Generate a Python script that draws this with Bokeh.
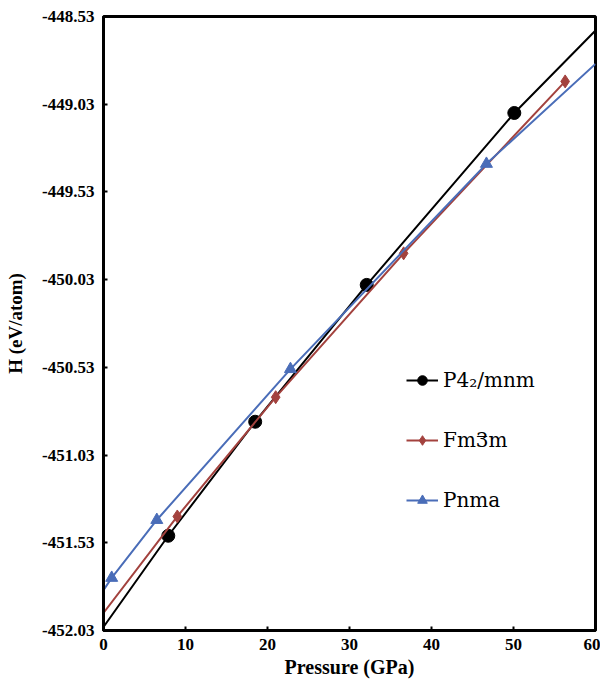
from bokeh.plotting import figure
from bokeh.models import Range1d, FixedTicker, PrintfTickFormatter, Legend, LegendItem, Label
from bokeh.embed import file_html
from bokeh.resources import INLINE

# ---- data ----
p42_p = [7.9, 18.5, 32.1, 50.1]
p42_h = [-451.49, -450.84, -450.06, -449.08]
p42_curve_p = [0.0, 7.9, 18.5, 32.1, 50.1, 60.0]
p42_curve_h = [-452.01, -451.49, -450.84, -450.06, -449.08, -448.61]

fm_p = [9.0, 21.0, 36.6, 56.3]
fm_h = [-451.38, -450.70, -449.88, -448.90]
fm_curve_p = [0.0, 9.0, 21.0, 36.6, 56.3]
fm_curve_h = [-451.93, -451.38, -450.70, -449.88, -448.90]

pnma_p = [1.0, 6.5, 22.8, 46.7]
pnma_h = [-451.73, -451.40, -450.54, -449.37]
pnma_curve_p = [0.0, 1.0, 6.5, 22.8, 46.7, 60.0]
pnma_curve_h = [-451.80, -451.73, -451.40, -450.54, -449.37, -448.80]

x_ticks = [0, 10, 20, 30, 40, 50, 60]
y_ticks = [-452.03, -451.53, -451.03, -450.53, -450.03, -449.53, -449.03, -448.53]

labels = ["P4\u2082/mnm", "Fm3m", "Pnma"]

BLACK = "#000000"
RED = "#A3423E"
BLUE = "#4A6DB8"

p = figure(width=600, height=674, output_backend="svg", toolbar_location=None,
           x_range=Range1d(0, 60), y_range=Range1d(-452.03, -448.53),
           min_border_left=103, min_border_right=5, min_border_top=16, min_border_bottom=44)
p.frame_width = 492
p.frame_height = 614

p.xgrid.visible = False
p.ygrid.visible = False
p.outline_line_color = "black"
p.outline_line_width = 3
p.background_fill_color = "white"
p.border_fill_color = "white"

p.xaxis.ticker = FixedTicker(ticks=x_ticks)
p.yaxis.ticker = FixedTicker(ticks=y_ticks)
p.yaxis.formatter = PrintfTickFormatter(format="%.2f")

for ax in (p.xaxis, p.yaxis):
    ax.axis_line_width = 3
    ax.axis_line_color = "black"
    ax.major_tick_in = 4
    ax.major_tick_out = 0
    ax.major_tick_line_width = 2
    ax.minor_tick_line_color = None
    ax.major_label_text_font = "Liberation Serif"
    ax.major_label_text_font_style = "bold"
    ax.major_label_text_font_size = "17px"
    ax.major_label_text_color = "black"
    ax.axis_label_text_font = "Liberation Serif"
    ax.axis_label_text_font_style = "bold"
    ax.axis_label_text_color = "black"

p.xaxis.axis_label = "Pressure (GPa)"
p.yaxis.axis_label = "H (eV/atom)"
p.xaxis.axis_label_text_font_size = "20px"
p.yaxis.axis_label_text_font_size = "19px"
p.xaxis.major_label_standoff = 8
p.xaxis.axis_label_standoff = 3
p.yaxis.major_label_standoff = 9
p.yaxis.axis_label_standoff = 13

l1 = p.line(p42_curve_p, p42_curve_h, line_color=BLACK, line_width=2)
m1 = p.scatter(p42_p, p42_h, marker="circle", size=13, fill_color=BLACK, line_color=BLACK)

l2 = p.line(fm_curve_p, fm_curve_h, line_color=RED, line_width=2)
m2 = p.scatter(fm_p, fm_h, marker="diamond", size=13, fill_color=RED, line_color=RED)

l3 = p.line(pnma_curve_p, pnma_curve_h, line_color=BLUE, line_width=2)
m3 = p.scatter(pnma_p, pnma_h, marker="triangle", size=12, fill_color=BLUE, line_color=BLUE)

legend = Legend(items=[
    LegendItem(label=labels[0], renderers=[l1, m1]),
    LegendItem(label=labels[1], renderers=[l2, m2]),
    LegendItem(label=labels[2], renderers=[l3, m3]),
], location=(303, 118))
legend.background_fill_color = None
legend.background_fill_alpha = 0
legend.border_line_color = None
legend.glyph_width = 32
legend.glyph_height = 24
legend.label_height = 24
legend.spacing = 36
legend.padding = 0
legend.margin = 0
legend.label_standoff = 5
legend.label_text_font = "DejaVu Serif"
legend.label_text_font_size = "20px"
legend.label_text_color = "black"
p.add_layout(legend, "center")

# bar over the "3" of Fm-3m, drawn above the legend
bar = Label(x=46.15, y=-450.856, text="_", text_align="center",
            text_baseline="alphabetic", text_font="DejaVu Serif",
            text_font_size="20px", text_color="black", level="overlay")
p.add_layout(bar, "center")

open("out.html", "w").write(file_html(p, INLINE))
